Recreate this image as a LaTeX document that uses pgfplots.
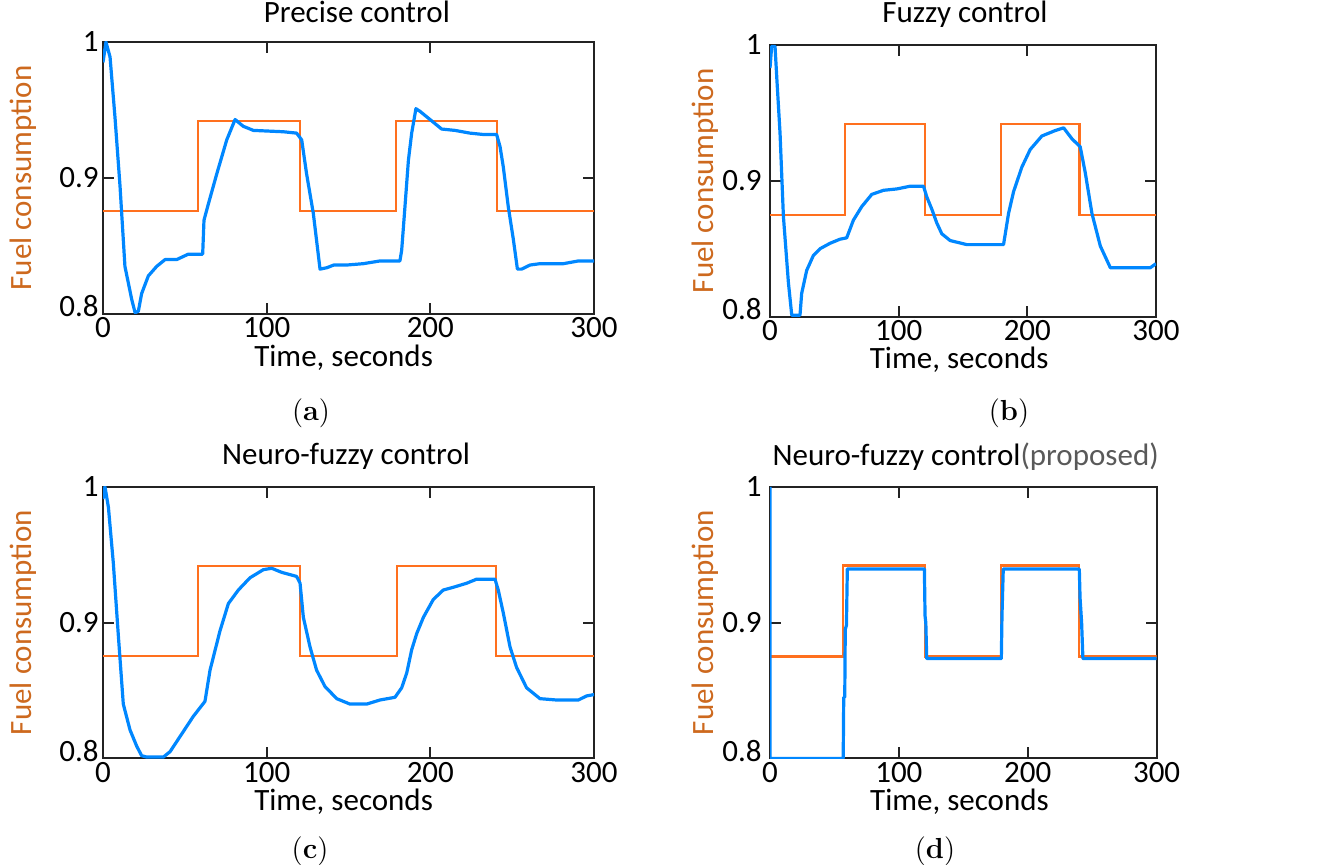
\documentclass[border=0pt]{standalone}
\usepackage{fontspec}
\setsansfont{Carlito}
\usepackage{pgfplots}
\pgfplotsset{compat=1.18}
\newcommand{\F}{\sffamily\fontsize{15.5}{18}\selectfont}
\definecolor{borange}{RGB}{255,112,30}
\definecolor{bblue}{RGB}{0,135,255}
\definecolor{ylab}{RGB}{205,105,30}
\definecolor{axgray}{RGB}{35,35,35}
\pgfplotsset{
  panel/.style={
    scale only axis,
    xmin=0, xmax=300, ymin=0.8, ymax=1,
    xtick={0,100,200,300}, xticklabels={0,100,200,300},
    ytick={0.8,0.9,1}, yticklabels={\raisebox{3.5pt}{0.8},0.9,1},
    /pgf/number format/assume math mode=true,
    tick align=inside, major tick length=5.5pt,
    axis line style={axgray, line width=1pt},
    every tick/.style={axgray, line width=1pt},
    tick label style={font=\F, text=black},
    xticklabel style={anchor=base, yshift=-12pt, inner sep=0pt},
    yticklabel style={anchor=base east, yshift=-4.9pt, inner ysep=0pt},
    xlabel={Time, seconds},
    ylabel={Fuel consumption},
    xlabel style={font=\F, anchor=base, inner sep=0pt, at={(axis description cs:0.49,0)}, yshift=-26pt},
    ylabel style={font=\F, text=ylab, rotate=0},
    title style={font=\F, anchor=base},
    clip=true,
  },
  orange line/.style={borange, line width=1.1pt},
  blue line/.style={bblue, line width=1.6pt, line join=round},
}
\begin{document}
\begin{tikzpicture}
\path[use as bounding box] (0,0) rectangle (662.5pt,-432.5pt);

% ---------------- (a)
\begin{axis}[panel, at={(51.5pt,-157pt)}, anchor=south west,
  width=245.5pt, height=136pt,
  yticklabel style={inner xsep=2pt},
  ylabel style={at={(axis description cs:-0.163,0.5)}, anchor=center},
  title={Precise control},
  title style={at={(axis description cs:0.517,1)}, yshift=3.5pt}]
\addplot[orange line] coordinates {(0,0.8757)(58,0.8757)(58,0.942)(120.5,0.942)(120.5,0.8757)(179,0.8757)(179,0.942)(240.5,0.942)(240.5,0.8757)(300,0.8757)};
\addplot[blue line] coordinates {
(0,0.985)(1.8,1.0)(4.3,0.989)(7.3,0.945)(10.4,0.894)(13.4,0.835)(17.5,0.811)(19.6,0.801)(21.6,0.802)(23.6,0.815)(27.7,0.828)(32.8,0.835)(37.9,0.840)(45,0.840)(52.1,0.844)(60.9,0.844)(61.7,0.869)(64.4,0.881)(69.5,0.903)(75.6,0.928)(80.7,0.943)(85.7,0.938)(91.9,0.935)(110.2,0.934)(118.3,0.933)(121.4,0.928)(124.4,0.903)(128.5,0.874)(132.6,0.833)(136.7,0.834)(141,0.836)(148.9,0.836)(159,0.837)(169.2,0.839)(181.4,0.839)(182.5,0.847)(184.5,0.879)(186.6,0.913)(188.6,0.933)(191.2,0.951)(193.7,0.949)(199.8,0.943)(206.9,0.936)(215,0.935)(224.2,0.933)(232.3,0.932)(240.5,0.932)(242.6,0.923)(244.6,0.908)(247.6,0.879)(250.7,0.855)(253.2,0.833)(255.8,0.833)(260.9,0.836)(267,0.837)(281.3,0.837)(290.4,0.839)(300,0.839)};
\end{axis}

% ---------------- (b)
\begin{axis}[panel, at={(385pt,-158.3pt)}, anchor=south west,
  width=193pt, height=135.8pt,
  yticklabel style={inner xsep=4pt},
  ylabel style={at={(axis description cs:-0.167,0.5)}, anchor=center},
  title={Fuzzy control},
  title style={at={(axis description cs:0.505,1)}, yshift=5pt}]
\addplot[orange line] coordinates {(0,0.875)(58.3,0.875)(58.3,0.942)(120.6,0.942)(120.6,0.875)(179.4,0.875)(179.4,0.942)(240.6,0.942)(240.6,0.875)(300,0.875)};
\addplot[blue line] coordinates {
(0,0.983)(1.3,0.999)(3.9,0.999)(5.2,0.977)(7.8,0.935)(10.4,0.874)(14.3,0.825)(16.9,0.801)(23.3,0.801)(24.6,0.817)(28.5,0.834)(33.7,0.845)(38.9,0.850)(46.7,0.854)(54.4,0.857)(59.6,0.858)(64.8,0.871)(71.3,0.881)(79.1,0.890)(88.2,0.893)(98.5,0.894)(108.9,0.896)(119.3,0.896)(121.9,0.888)(125.8,0.879)(129.6,0.869)(133.5,0.861)(140,0.856)(153,0.853)(167.2,0.853)(181.5,0.853)(185.4,0.876)(189.3,0.892)(195.7,0.910)(202.2,0.923)(211.3,0.933)(221.7,0.937)(228.2,0.939)(234.6,0.931)(241.1,0.925)(245,0.906)(250.2,0.876)(256.7,0.852)(264.5,0.836)(277.4,0.836)(295.6,0.836)(300,0.839)};
\end{axis}

% ---------------- (c)
\begin{axis}[panel, at={(51.5pt,-379.2pt)}, anchor=south west,
  width=245.5pt, height=135.8pt,
  yticklabel style={inner xsep=2pt},
  ylabel style={at={(axis description cs:-0.163,0.5)}, anchor=center},
  title={Neuro-fuzzy control},
  title style={at={(axis description cs:0.495,1)}, yshift=5pt}]
\addplot[orange line] coordinates {(0,0.8753)(58,0.8753)(58,0.9418)(120.4,0.9418)(120.4,0.8753)(179.5,0.8753)(179.5,0.9418)(240.1,0.9418)(240.1,0.8753)(300,0.8753)};
\addplot[blue line] coordinates {
(0,0.991)(1.2,1.0)(3.3,0.985)(6.3,0.944)(9.4,0.890)(12.4,0.840)(16.5,0.821)(20.6,0.809)(23.6,0.802)(26.7,0.801)(36.9,0.801)(41,0.805)(48.1,0.818)(55.2,0.831)(62.3,0.842)(65.4,0.865)(71.5,0.894)(76.6,0.914)(82.7,0.924)(89.8,0.933)(98,0.939)(103.1,0.940)(109.2,0.937)(118.3,0.934)(120.4,0.929)(122.4,0.904)(126.5,0.882)(130.5,0.865)(135.6,0.853)(142.8,0.844)(150.9,0.840)(161.1,0.840)(169.2,0.843)(178.4,0.845)(182.5,0.852)(185.6,0.863)(188.6,0.880)(191.7,0.892)(195.8,0.904)(201.8,0.917)(207.9,0.924)(214,0.926)(222.2,0.929)(228.3,0.932)(239.5,0.932)(241.5,0.924)(244.6,0.907)(248.7,0.882)(252.7,0.867)(258.8,0.852)(267,0.844)(277.2,0.843)(290.4,0.843)(295.5,0.846)(300,0.847)};
\end{axis}

% ---------------- (d)
\begin{axis}[panel, at={(385pt,-379.2pt)}, anchor=south west,
  width=193.3pt, height=135.8pt,
  yticklabel style={inner xsep=4pt},
  ylabel style={at={(axis description cs:-0.167,0.5)}, anchor=center},
  title={Neuro-fuzzy control\textcolor{black!65}{(proposed)}},
  title style={at={(axis description cs:0.506,1)}, yshift=4.5pt}]
\addplot[orange line] coordinates {(0,0.875)(56.5,0.875)(56.5,0.942)(120.2,0.942)(120.2,0.875)(179,0.875)(179,0.942)(240,0.942)(240,0.875)(300,0.875)};
\addplot[blue line] coordinates {
(0,1.0)(0,0.8)(56.8,0.8)(57.2,0.845)(58,0.845)(58.4,0.895)(59.3,0.898)(60,0.9395)(119.8,0.9395)(120.3,0.905)(120.9,0.9)(121.6,0.8735)(179.5,0.8735)(180,0.905)(181,0.9395)(240,0.9395)(240.6,0.918)(241.8,0.9)(242.8,0.8735)(300,0.8735)};
\end{axis}

% captions
\node[font=\rmfamily\fontsize{14.5}{17}\selectfont, anchor=base] at (155.5pt,-210pt) {(\textbf{a})};
\node[font=\rmfamily\fontsize{14.5}{17}\selectfont, anchor=base] at (504.5pt,-210pt) {(\textbf{b})};
\node[font=\rmfamily\fontsize{14.5}{17}\selectfont, anchor=base] at (155pt,-429pt) {(\textbf{c})};
\node[font=\rmfamily\fontsize{14.5}{17}\selectfont, anchor=base] at (467.5pt,-429pt) {(\textbf{d})};
\end{tikzpicture}
\end{document}
